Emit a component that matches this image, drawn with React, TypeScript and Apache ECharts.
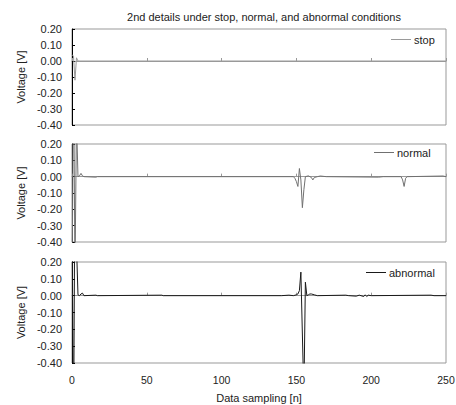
import React, { useEffect, useRef } from "react";
import * as echarts from "echarts";

const title = "2nd details under stop, normal, and abnormal conditions";
const xTitle = "Data sampling [n]";
const yTitle = "Voltage [V]";
const seriesNames = ["stop", "normal", "abnormal"];
const seriesColors = ["#9a9a9a", "#707070", "#1a1a1a"];

// [sample n, voltage]
const stopData: [number, number][] = [
  [0, 0.04], [1, 0.03], [2, -0.12], [3, 0.02], [4, 0], [250, 0],
];
const normalData: [number, number][] = [
  [0, -0.8], [1, 0.7], [2, -0.6], [3, 0.35], [4, 0.0], [5, 0.005], [6, 0.02], [7, 0.005], [8, 0],
  [16, -0.003], [17, 0], [148, 0], [149, -0.01], [150, -0.03], [151, -0.06], [152, 0.05],
  [153, -0.02], [154, -0.19], [155, -0.08], [156, 0], [158, 0.005], [160, -0.005], [161, -0.02],
  [162, -0.005], [164, 0], [166, 0.004], [170, 0], [205, -0.003], [208, 0], [220, 0],
  [221, -0.02], [222, -0.06], [223, -0.01], [224, 0], [248, 0.004], [250, 0],
];
const abnormalData: [number, number][] = [
  [0, 0.6], [1, -0.9], [2, 0.8], [3, 0.3], [4, 0.005], [5, 0.0], [6, 0.01], [7, 0.015], [8, 0.0],
  [16, 0.003], [17, 0], [60, 0.003], [61, 0], [140, 0], [145, 0.003], [148, 0], [150, 0.005],
  [151, 0.01], [152, 0.03], [153, 0.14], [155, -0.6], [156, 0.08], [157, 0.0], [158, 0.005],
  [159, 0.01], [160, 0.01], [162, 0.005], [164, 0], [183, 0.003], [185, 0], [190, -0.003],
  [192, 0.003], [195, -0.005], [196, 0.005], [197, -0.005], [198, 0.003], [200, 0],
  [240, 0.003], [242, 0], [250, 0],
];
const allData = [stopData, normalData, abnormalData];

const grids = [
  { top: 29, height: 96 },
  { top: 144, height: 98 },
  { top: 262, height: 101 },
];
const legendPos = [
  { left: 391, top: 34 },
  { left: 374, top: 147 },
  { left: 366, top: 267 },
];

const font = "'Liberation Sans', Arial, sans-serif";

export default function App() {
  const ref = useRef<HTMLDivElement>(null);
  useEffect(() => {
    document.body.style.margin = "0";
    if (!ref.current) return;
    const chart = echarts.init(ref.current, null, { renderer: "svg", width: 456, height: 405 });
    chart.setOption({
      animation: false,
      backgroundColor: "#fff",
      textStyle: { fontFamily: font },
      title: {
        text: title,
        left: 259,
        textAlign: "center",
        top: 6,
        textStyle: { fontSize: 11, fontWeight: "normal", color: "#222", fontFamily: font },
      },
      grid: grids.map((g) => ({
        left: 72,
        right: 10,
        top: g.top,
        height: g.height,
        show: true,
        borderColor: "#999",
        borderWidth: 1,
        containLabel: false,
        outerBoundsMode: "none",
      })),
      legend: seriesNames.map((n, i) => ({
        data: [n],
        left: legendPos[i].left,
        top: legendPos[i].top,
        icon: "rect",
        itemWidth: 20,
        itemHeight: 1,
        itemGap: 4,
        padding: 0,
        textStyle: { fontSize: 11, color: "#222", fontFamily: font, padding: [0, 0, 0, -2] },
      })),
      xAxis: grids.map((_, i) => ({
        type: "value",
        gridIndex: i,
        min: 0,
        max: 250,
        interval: 50,
        name: i === 2 ? xTitle : "",
        nameLocation: "middle",
        nameGap: 29,
        nameTextStyle: { fontSize: 11, color: "#222", fontFamily: font },
        axisLine: { show: true, lineStyle: { color: "#999" } },
        axisTick: { show: true, inside: true, length: 3, lineStyle: { color: "#999" } },
        axisLabel: {
          show: i === 2,
          fontSize: 10.5,
          color: "#222",
          fontFamily: font,
          margin: 11,
          hideOverlap: false,
          showMinLabel: true,
          showMaxLabel: true,
        },
        splitLine: { show: false },
      })),
      yAxis: grids.map((_, i) => ({
        type: "value",
        gridIndex: i,
        min: -0.4,
        max: 0.2,
        interval: 0.1,
        name: yTitle,
        nameLocation: "middle",
        nameGap: 42,
        nameTextStyle: { fontSize: 11, color: "#222", fontFamily: font },
        axisLine: { show: true, lineStyle: { color: "#000" } },
        axisTick: { show: true, inside: true, length: 3, lineStyle: { color: "#000" } },
        axisLabel: {
          fontSize: 11,
          color: "#222",
          fontFamily: font,
          margin: 10,
          showMinLabel: true,
          showMaxLabel: true,
          formatter: (v: number) => v.toFixed(2),
        },
        splitLine: { show: false },
      })),
      series: seriesNames.map((n, i) => ({
        name: n,
        type: "line",
        xAxisIndex: i,
        yAxisIndex: i,
        data: allData[i],
        symbol: "none",
        clip: true,
        lineStyle: { color: seriesColors[i], width: 1 },
        itemStyle: { color: seriesColors[i] },
      })),
    });
    return () => chart.dispose();
  }, []);
  return <div ref={ref} style={{ width: 456, height: 405 }} />;
}
